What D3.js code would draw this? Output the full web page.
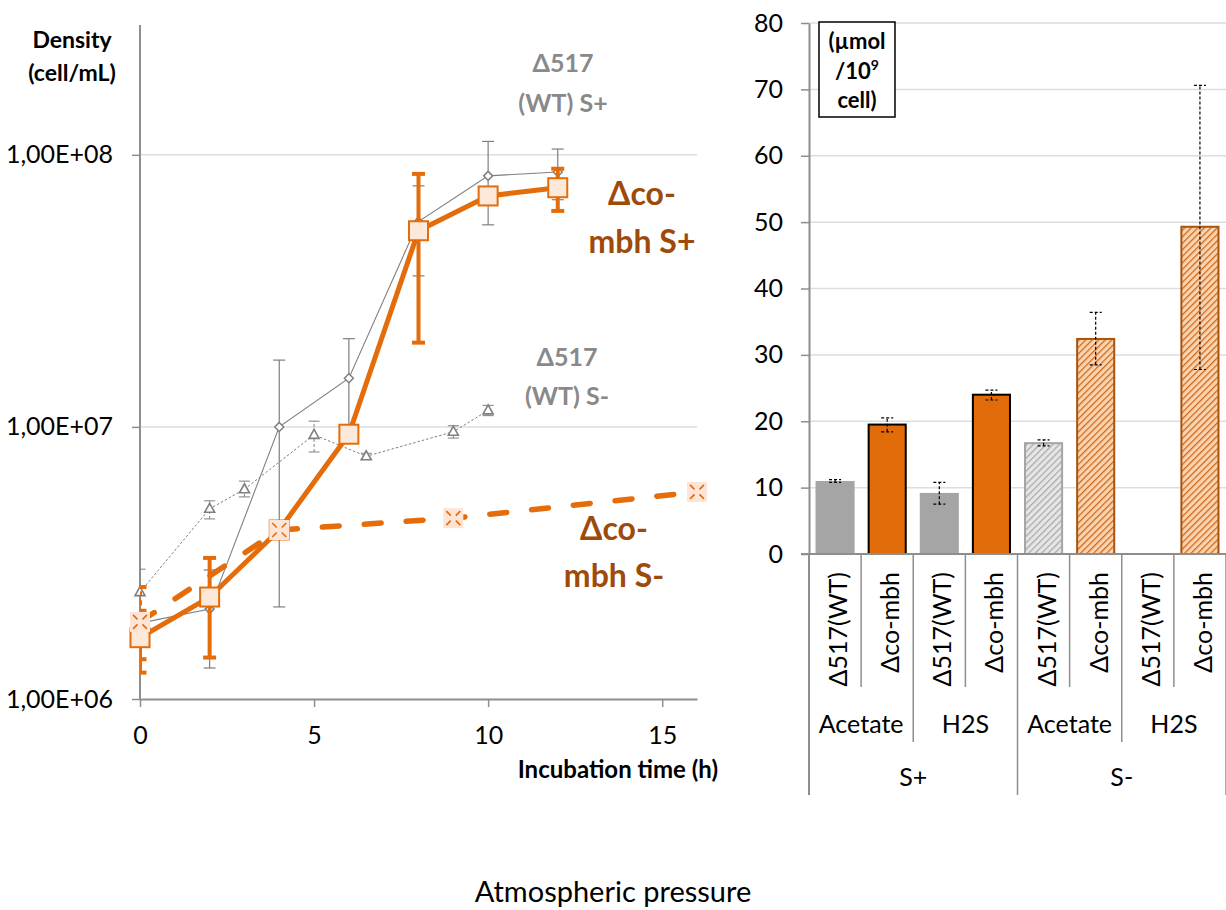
<!DOCTYPE html>
<html><head><meta charset="utf-8">
<script src="https://cdn.jsdelivr.net/npm/d3@7"></script>
<style>body{margin:0;background:#fff}svg{display:block;font-family:Lato,"Open Sans",sans-serif}</style>
</head><body><svg id="c" width="1226" height="910"></svg>
<script>
// ---------- LEFT CHART DATA ----------
const densTicks = [1e6, 1e7, 1e8];
const densTickLabels = ["1,00E+06", "1,00E+07", "1,00E+08"];
const timeTicks = [0, 5, 10, 15];

const tWTplus = [0, 2, 4, 6, 8, 10, 12];
const dWTplus = [1.9e6, 2.14e6, 1.0e7, 1.51e7, 5.68e7, 8.37e7, 8.65e7];
const dWTplusLo = [null, 1.30e6, 2.18e6, 9.1e6, 3.59e7, 5.53e7, 6.84e7];
const dWTplusHi = [null, 2.98e6, 1.76e7, 2.11e7, 7.69e7, 1.12e8, 1.05e8];

const tWTminus = [0, 2, 3, 5, 6.5, 9, 10];
const dWTminus = [2.47e6, 5.0e6, 5.9e6, 9.35e6, 7.8e6, 9.6e6, 1.15e7];
const dWTminusLo = [1.94e6, 4.59e6, 5.53e6, 8.09e6, 7.6e6, 9.1e6, 1.1e7];
const dWTminusHi = [3.0e6, 5.35e6, 6.32e6, 1.05e7, 8.0e6, 1.01e7, 1.2e7];

const tCoPlus = [0, 2, 4, 6, 8, 10, 12];
const dCoPlus = [1.68e6, 2.37e6, 4.18e6, 9.4e6, 5.26e7, 7.06e7, 7.57e7];
const dCoPlusLo = [1.25e6, 1.42e6, null, null, 2.04e7, null, 6.22e7];
const dCoPlusHi = [2.11e6, 3.3e6, null, null, 8.51e7, null, 8.89e7];

const tCoMinus = [0, 4, 9, 16];
const dCoMinus = [1.92e6, 4.18e6, 4.62e6, 5.77e6];
const dCoMinusLo = [1.40e6, null, null, null];
const dCoMinusHi = [2.58e6, null, null, null];

// ---------- RIGHT CHART DATA ----------
const barStrains = ["Δ517(WT)", "Δco-mbh", "Δ517(WT)", "Δco-mbh", "Δ517(WT)", "Δco-mbh", "Δ517(WT)", "Δco-mbh"];
const barProducts = ["Acetate", "H2S", "Acetate", "H2S"];
const barConditions = ["S+", "S-"];
const barValues = [11.0, 19.5, 9.2, 24.0, 16.7, 32.4, null, 49.3];
const barErrLo = [10.8, 18.4, 7.5, 23.2, 16.3, 28.5, null, 27.8];
const barErrHi = [11.2, 20.5, 10.8, 24.7, 17.2, 36.4, null, 70.6];
const barTicks = [0, 10, 20, 30, 40, 50, 60, 70, 80];

// ---------- STYLES ----------
const ORANGE = "#E46C0A", PEACH = "#FDE9D9", GRAY = "#7F7F7F", GRID = "#DDDDDD",
      AXIS = "#8E8E8E", BROWN = "#9E4A0B", LBLGRAY = "#898989";
const FONT = "Lato, 'Open Sans', sans-serif";

const svg = d3.select("#c");
const defs = svg.append("defs");

// ================= LEFT CHART =================
const x = d3.scaleLinear().domain([0, 16]).range([140, 697]);
const y = d3.scaleLog().domain([1e6, 3e8]).range([699, 25]);

defs.append("clipPath").attr("id", "plotclip")
  .append("rect").attr("x", x(0)).attr("y", 0).attr("width", x(16) - x(0) + 12).attr("height", y(1e6) + 2);

const L = svg.append("g");
L.selectAll("line.grid").data(densTicks.slice(1)).join("line")
  .attr("x1", x(0)).attr("x2", x(16)).attr("y1", d => y(d)).attr("y2", d => y(d))
  .attr("stroke", GRID).attr("stroke-width", 1.5);

const yAx = L.append("g").attr("transform", `translate(${x(0)},0)`)
  .call(d3.axisLeft(y).tickValues(densTicks).tickFormat((d, i) => densTickLabels[i]).tickSize(8).tickSizeOuter(0).tickPadding(19));
const xAx = L.append("g").attr("transform", `translate(0,${y(1e6)})`)
  .call(d3.axisBottom(x).tickValues(timeTicks).tickSize(8).tickSizeOuter(0).tickPadding(19));
[yAx, xAx].forEach(a => {
  a.attr("font-family", FONT).attr("font-size", 25);
  a.select(".domain").attr("stroke", AXIS).attr("stroke-width", 2);
  a.selectAll(".tick line").attr("stroke", AXIS).attr("stroke-width", 1.5);
  a.selectAll(".tick text").attr("fill", "#000");
});
yAx.select(".domain").attr("d", `M0,${y.range()[1]}V${y.range()[0]}`);

function pts(ts, ds, lo, hi) { return ts.map((t, i) => ({ t, d: ds[i], lo: lo[i], hi: hi[i] })); }
const sWTp = pts(tWTplus, dWTplus, dWTplusLo, dWTplusHi);
const sWTm = pts(tWTminus, dWTminus, dWTminusLo, dWTminusHi);
const sCop = pts(tCoPlus, dCoPlus, dCoPlusLo, dCoPlusHi);
const sCom = pts(tCoMinus, dCoMinus, dCoMinusLo, dCoMinusHi);

const line = d3.line().x(p => x(p.t)).y(p => y(p.d));

function errBars(g, data, color, w, cap, dash) {
  const eg = g.append("g").attr("clip-path", "url(#plotclip)");
  data.filter(p => p.lo != null).forEach(p => {
    const cx = x(p.t);
    eg.append("line").attr("x1", cx).attr("x2", cx).attr("y1", y(p.lo)).attr("y2", y(p.hi))
      .attr("stroke", color).attr("stroke-width", w).attr("stroke-dasharray", dash || null);
    [p.lo, p.hi].forEach(v => eg.append("line").attr("x1", cx - cap / 2).attr("x2", cx + cap / 2)
      .attr("y1", y(v)).attr("y2", y(v)).attr("stroke", color).attr("stroke-width", w));
  });
}

L.append("path").datum(sWTm).attr("d", line).attr("fill", "none").attr("stroke", GRAY)
  .attr("stroke-width", 1).attr("stroke-dasharray", "2.5,2");
L.append("path").datum(sWTp).attr("d", line).attr("fill", "none").attr("stroke", GRAY).attr("stroke-width", 1.1);
errBars(L, sWTm, GRAY, 1, 11, "3,2");
errBars(L, sWTp, GRAY, 1.2, 12, null);
L.selectAll("path.tri").data(sWTm).join("path")
  .attr("d", "M0,-5.5L5,3.5L-5,3.5Z")
  .attr("transform", p => `translate(${x(p.t)},${y(p.d)})`)
  .attr("fill", "#fff").attr("stroke", GRAY).attr("stroke-width", 1.6);
L.selectAll("path.dia").data(sWTp).join("path")
  .attr("d", "M0,-4.5L4.5,0L0,4.5L-4.5,0Z")
  .attr("transform", p => `translate(${x(p.t)},${y(p.d)})`)
  .attr("fill", "#fff").attr("stroke", GRAY).attr("stroke-width", 1.5);

L.append("path").datum(sCop).attr("d", line).attr("fill", "none").attr("stroke", ORANGE)
  .attr("stroke-width", 5).attr("stroke-linejoin", "round");
L.append("path").datum(sCom).attr("d", line).attr("fill", "none").attr("stroke", ORANGE)
  .attr("stroke-width", 5.5).attr("stroke-dasharray", "17,25").attr("stroke-linecap", "round");
errBars(L, sCop, ORANGE, 4, 13, null);
errBars(L, sCom, ORANGE, 4, 13, "5,4");
L.selectAll("rect.sq").data(sCop).join("rect")
  .attr("x", p => x(p.t) - 9.5).attr("y", p => y(p.d) - 9.5).attr("width", 19).attr("height", 19)
  .attr("fill", PEACH).attr("stroke", ORANGE).attr("stroke-width", 2);
const xm = L.selectAll("g.xm").data(sCom).join("g")
  .attr("transform", p => `translate(${x(p.t)},${y(p.d)})`);
xm.append("rect").attr("x", -10).attr("y", -10).attr("width", 20).attr("height", 20).attr("fill", "#FCE4D6");
xm.append("path").attr("d", "M-7,-7L-2.5,-2.5M2.5,2.5L7,7M-7,7L-2.5,2.5M2.5,-2.5L7,-7").attr("stroke", ORANGE).attr("stroke-width", 1.6);

function label(lines, cx, baselines, size, color, weight) {
  lines.forEach((t, i) => svg.append("text").attr("x", cx).attr("y", baselines[i])
    .attr("text-anchor", "middle").attr("font-family", FONT).attr("font-size", size)
    .attr("font-weight", weight || "bold").attr("fill", color).text(t));
}
label(["Density", "(cell/mL)"], 72, [48, 81], 23, "#000");
label(["Δ517", "(WT) S+"], 563, [72, 112], 25, LBLGRAY);
label(["Δco-", "mbh S+"], 642, [205, 253], 32, BROWN);
label(["Δ517", "(WT) S-"], 567, [366, 405], 25, LBLGRAY);
label(["Δco-", "mbh S-"], 614, [540, 587], 32, BROWN);
svg.append("text").attr("x", 718).attr("y", 778).attr("text-anchor", "end")
  .attr("font-family", FONT).attr("font-size", 24).attr("font-weight", "bold").text("Incubation time (h)");

// ================= RIGHT CHART =================
const yb = d3.scaleLinear().domain([0, 80]).range([554, 23]);
const xb = d3.scaleBand().domain(d3.range(barValues.length)).range([809, 1226]).paddingInner(0.25).paddingOuter(0.125);
const step = xb.step(), x0 = xb.range()[0];

function hatch(id, bg, fg) {
  const p = defs.append("pattern").attr("id", id).attr("patternUnits", "userSpaceOnUse")
    .attr("width", 4.6).attr("height", 4.6).attr("patternTransform", "rotate(45)");
  p.append("rect").attr("width", 4.6).attr("height", 4.6).attr("fill", bg);
  p.append("line").attr("x1", 0).attr("y1", 0).attr("x2", 0).attr("y2", 4.6).attr("stroke", fg).attr("stroke-width", 2.6);
}
hatch("hOr", "#FDD3AE", "#CB6C22");
hatch("hGr", "#E6E6E6", "#ABABAB");

const barStyle = [
  { fill: "#A5A5A5", stroke: "none", sw: 0 },
  { fill: "#E36C0A", stroke: "#000", sw: 2 },
  { fill: "#A5A5A5", stroke: "none", sw: 0 },
  { fill: "#E36C0A", stroke: "#000", sw: 2 },
  { fill: "url(#hGr)", stroke: "#A5A5A5", sw: 2 },
  { fill: "url(#hOr)", stroke: "#A6540F", sw: 2 },
  { fill: "none", stroke: "none", sw: 0 },
  { fill: "url(#hOr)", stroke: "#A6540F", sw: 2 }
];

const R = svg.append("g");
R.selectAll("line.g").data(barTicks.slice(1)).join("line")
  .attr("x1", x0).attr("x2", 1226).attr("y1", d => yb(d)).attr("y2", d => yb(d))
  .attr("stroke", GRID).attr("stroke-width", 1.5);

const bdata = barValues.map((v, i) => ({ i, v, lo: barErrLo[i], hi: barErrHi[i] })).filter(d => d.v != null);
R.selectAll("rect.bar").data(bdata).join("rect")
  .attr("x", d => xb(d.i) + barStyle[d.i].sw / 2).attr("y", d => yb(d.v))
  .attr("width", d => xb.bandwidth() - barStyle[d.i].sw).attr("height", d => yb(0) - yb(d.v))
  .attr("fill", d => barStyle[d.i].fill).attr("stroke", d => barStyle[d.i].stroke)
  .attr("stroke-width", d => barStyle[d.i].sw);

bdata.forEach(d => {
  const cx = xb(d.i) + xb.bandwidth() / 2;
  R.append("line").attr("x1", cx).attr("x2", cx).attr("y1", yb(d.lo)).attr("y2", yb(d.hi))
    .attr("stroke", "#000").attr("stroke-width", 1.2).attr("stroke-dasharray", "3,2");
  [d.lo, d.hi].forEach(v => R.append("line").attr("x1", cx - 6).attr("x2", cx + 6)
    .attr("y1", yb(v)).attr("y2", yb(v)).attr("stroke", "#000").attr("stroke-width", 1.2).attr("stroke-dasharray", "3,2"));
});

const ybAx = R.append("g").attr("transform", `translate(${x0},0)`)
  .call(d3.axisLeft(yb).tickValues(barTicks).tickSize(8).tickSizeOuter(0).tickPadding(18));
ybAx.attr("font-family", FONT).attr("font-size", 25);
ybAx.select(".domain").attr("stroke", AXIS).attr("stroke-width", 2);
ybAx.selectAll(".tick line").attr("stroke", AXIS).attr("stroke-width", 1.5);
ybAx.selectAll(".tick text").attr("fill", "#000");

R.append("line").attr("x1", x0 - 8).attr("x2", 1226).attr("y1", yb(0)).attr("y2", yb(0))
  .attr("stroke", AXIS).attr("stroke-width", 2);

const nb = barValues.length;
d3.range(nb + 1).forEach(k => {
  let y2 = 687;
  if (k % 2 === 0) y2 = 742;
  if (k % 4 === 0) y2 = 795;
  R.append("line").attr("x1", x0 + k * step).attr("x2", x0 + k * step)
    .attr("y1", yb(0)).attr("y2", y2).attr("stroke", AXIS).attr("stroke-width", k === 0 ? 2 : 1.5);
});

barStrains.forEach((s, i) => {
  const cx = xb(i) + xb.bandwidth() / 2;
  R.append("text").attr("transform", `translate(${cx + 2},572) rotate(-90)`)
    .attr("text-anchor", "end").attr("dominant-baseline", "central")
    .attr("font-family", FONT).attr("font-size", 25).attr("fill", "#000").text(s);
});
barProducts.forEach((s, j) => {
  R.append("text").attr("x", x0 + (2 * j + 1) * step).attr("y", 733).attr("text-anchor", "middle")
    .attr("font-family", FONT).attr("font-size", 25).attr("fill", "#000").text(s);
});
barConditions.forEach((s, j) => {
  R.append("text").attr("x", x0 + (4 * j + 2) * step).attr("y", 786).attr("text-anchor", "middle")
    .attr("font-family", FONT).attr("font-size", 25).attr("fill", "#000").text(s);
});

R.append("rect").attr("x", 819).attr("y", 22).attr("width", 76).attr("height", 95)
  .attr("fill", "#fff").attr("stroke", "#000").attr("stroke-width", 1.5);
const ub = R.append("g").attr("font-family", FONT).attr("font-weight", "bold").attr("font-size", 22).attr("text-anchor", "middle");
ub.append("text").attr("x", 857).attr("y", 49).text("(µmol");
const t2 = ub.append("text").attr("x", 857).attr("y", 79);
t2.append("tspan").text("/10");
t2.append("tspan").attr("font-size", 14).attr("dy", -9).text("9");
ub.append("text").attr("x", 857).attr("y", 108).text("cell)");

svg.append("text").attr("x", 613).attr("y", 902).attr("text-anchor", "middle")
  .attr("font-family", FONT).attr("font-size", 29).attr("fill", "#000").text("Atmospheric pressure");
</script>
</body></html>
